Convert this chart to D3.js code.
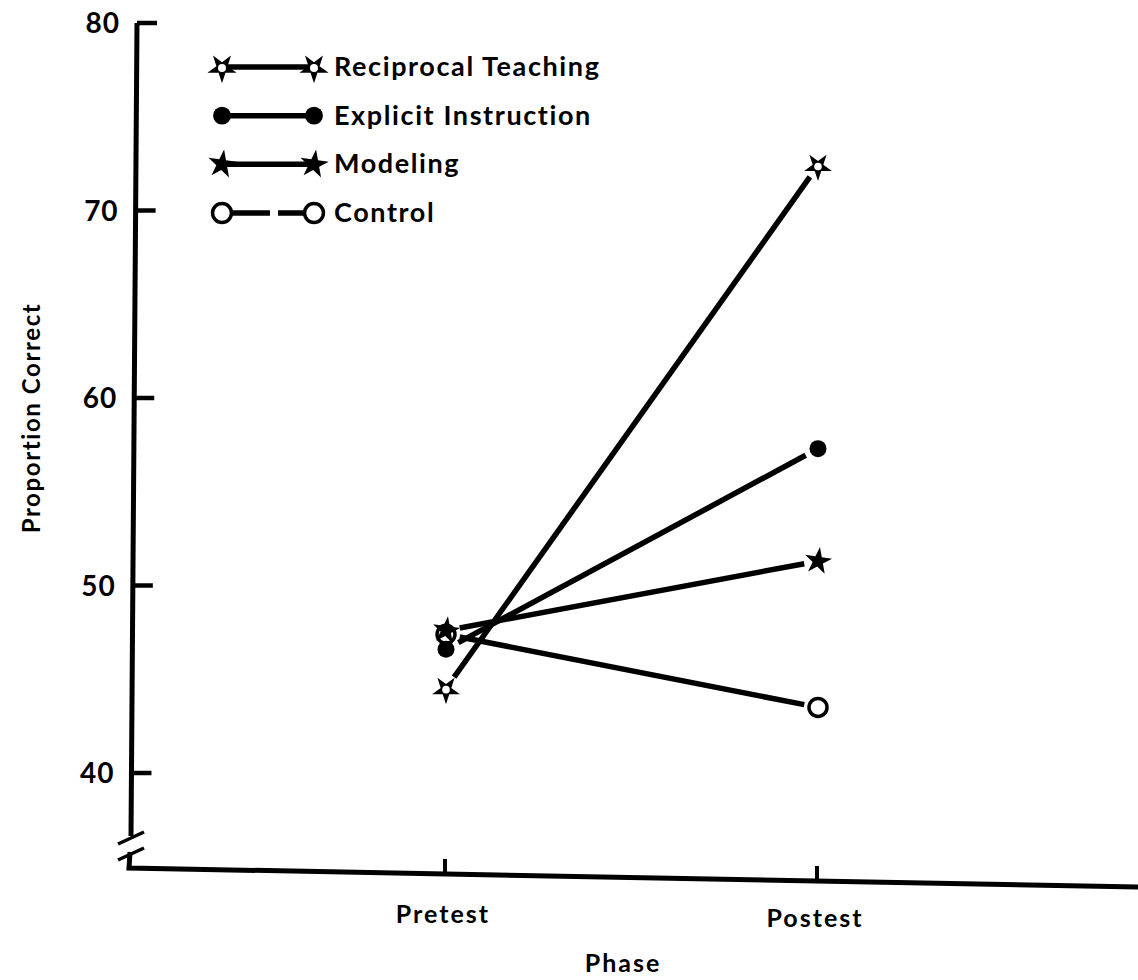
<!DOCTYPE html>
<html>
<head>
<meta charset="utf-8">
<script src="https://cdn.jsdelivr.net/npm/d3@7"></script>
<style>
  body { margin: 0; background: #fff; }
  text { font-family: "Lato", "DejaVu Sans", sans-serif; font-weight: bold; fill: #000; }
</style>
</head>
<body>
<script>
const phases = ["Pretest", "Postest"];
const groups = ["Reciprocal Teaching", "Explicit Instruction", "Modeling", "Control"];
const reciprocal = [44.5, 72.4];
const explicit = [46.6, 57.3];
const modeling = [47.6, 51.3];
const control = [47.4, 43.5];
const yTicks = [40, 50, 60, 70, 80];

const series = [
    { name: groups[0], values: reciprocal, marker: "openStar" },
    { name: groups[1], values: explicit, marker: "dot" },
    { name: groups[2], values: modeling, marker: "star" },
    { name: groups[3], values: control, marker: "ring" },
];

const width = 1138;
const height = 980;

const svg = d3.select("body")
    .append("svg")
    .attr("width", width)
    .attr("height", height);

const x = d3.scalePoint()
    .domain(phases)
    .range([446, 818]);

const y = d3.scaleLinear()
    .domain([40, 80])
    .range([773, 23]);

// axis lines (the scan is slightly skewed, so draw them by hand)
const axisX = 136;
const baseY = 868;

svg.append("path")
    .attr("d", `M${axisX + 1},${y(80)} L${axisX - 5},836`)
    .attr("stroke", "#000")
    .attr("stroke-width", 5)
    .attr("fill", "none");

svg.append("path")
    .attr("d", `M${axisX - 6},852 L${axisX - 7},${baseY} L1138,887`)
    .attr("stroke", "#000")
    .attr("stroke-width", 5)
    .attr("fill", "none");

// axis break
svg.selectAll(".brk")
    .data([0, 16])
    .enter()
    .append("line")
    .attr("x1", axisX - 18)
    .attr("y1", d => 844 + d)
    .attr("x2", axisX + 8)
    .attr("y2", d => 832 + d)
    .attr("stroke", "#000")
    .attr("stroke-width", 3.5);

// y ticks
const slope = -6 / (836 - y(80));
svg.selectAll(".ytick")
    .data(yTicks)
    .enter()
    .append("line")
    .attr("x1", d => axisX + 1 + (y(d) - y(80)) * slope)
    .attr("x2", d => axisX + 21 + (y(d) - y(80)) * slope)
    .attr("y1", d => y(d))
    .attr("y2", d => y(d))
    .attr("stroke", "#000")
    .attr("stroke-width", 4.5);

svg.selectAll(".ylab")
    .data(yTicks)
    .enter()
    .append("text")
    .attr("x", d => 120 + (y(d) - y(80)) * slope)
    .attr("y", d => y(d) + 10)
    .attr("text-anchor", "end")
    .attr("font-size", "28px")
    .attr("letter-spacing", "1px")
    .text(d => d);

svg.append("text")
    .attr("transform", "translate(40,418) rotate(-90)")
    .attr("text-anchor", "middle")
    .attr("font-size", "24px")
    .attr("letter-spacing", "1.6px")
    .text("Proportion Correct");

// x ticks
const baseAt = px => baseY + (px - (axisX - 7)) * (887 - baseY) / (1138 - (axisX - 7));
svg.selectAll(".xtick")
    .data(phases)
    .enter()
    .append("line")
    .attr("x1", d => x(d) - 1)
    .attr("x2", d => x(d) - 1)
    .attr("y1", d => baseAt(x(d)) - 15)
    .attr("y2", d => baseAt(x(d)))
    .attr("stroke", "#000")
    .attr("stroke-width", 4);

svg.selectAll(".xlab")
    .data(phases)
    .enter()
    .append("text")
    .attr("x", d => x(d) - 3)
    .attr("y", (d, i) => 923 + i * 4)
    .attr("text-anchor", "middle")
    .attr("font-size", "25px")
    .attr("letter-spacing", "2px")
    .text(d => d);

svg.append("text")
    .attr("x", 623)
    .attr("y", 972)
    .attr("text-anchor", "middle")
    .attr("font-size", "25px")
    .attr("letter-spacing", "2px")
    .text("Phase");

// markers
function drawMarker(g, type, cx, cy, scale) {
    const k = scale || 1;
    if (type === "openStar") {
        g.append("path")
            .attr("d", d3.symbol().type(d3.symbolStar).size(240 * k * k)())
            .attr("transform", `translate(${cx},${cy + 1}) rotate(36)`)
            .attr("fill", "#000");
        g.append("circle")
            .attr("cx", cx).attr("cy", cy + 1).attr("r", 3.8 * k)
            .attr("fill", "#fff");
    } else if (type === "dot") {
        g.append("circle")
            .attr("cx", cx).attr("cy", cy).attr("r", 8.5 * k)
            .attr("fill", "#000");
    } else if (type === "star") {
        g.append("path")
            .attr("d", d3.symbol().type(d3.symbolStar).size(230 * k * k)())
            .attr("transform", `translate(${cx},${cy}) rotate(8)`)
            .attr("fill", "#000");
    } else {
        g.append("circle")
            .attr("cx", cx).attr("cy", cy).attr("r", 9 * k)
            .attr("fill", "#fff")
            .attr("stroke", "#000")
            .attr("stroke-width", 3.5);
    }
}

// trim line ends so they stop short of the markers, as in the print
function trimmed(p0, p1, gap) {
    const dx = p1[0] - p0[0];
    const dy = p1[1] - p0[1];
    const len = Math.hypot(dx, dy);
    const ux = dx / len;
    const uy = dy / len;
    return [[p0[0] + ux * gap, p0[1] + uy * gap], [p1[0] - ux * gap, p1[1] - uy * gap]];
}

const plot = svg.append("g");

series.forEach(s => {
    const pts = s.values.map((v, i) => [x(phases[i]), y(v)]);
    const seg = trimmed(pts[0], pts[1], 14);
    plot.append("path")
        .attr("d", d3.line()(seg))
        .attr("stroke", "#000")
        .attr("stroke-width", 5.5)
        .attr("fill", "none");
});

// control first so the modeling star sits over it at the pretest
[3, 0, 1, 2].forEach(j => {
    const s = series[j];
    s.values.forEach((v, i) => drawMarker(plot, s.marker, x(phases[i]), y(v)));
});

// legend
const legendY = d3.scalePoint()
    .domain(groups)
    .range([67, 213]);

const legend = svg.append("g");

series.forEach(s => {
    const ly = legendY(s.name);
    legend.append("line")
        .attr("x1", 222)
        .attr("x2", 314)
        .attr("y1", ly)
        .attr("y2", ly)
        .attr("stroke", "#000")
        .attr("stroke-width", 5.5)
        .attr("stroke-dasharray", s.marker === "ring" ? "48,8,60" : null);
    drawMarker(legend, s.marker, 222, ly, 1.05);
    drawMarker(legend, s.marker, 314, ly, 1.05);
    legend.append("text")
        .attr("x", 334)
        .attr("y", ly + 9)
        .attr("font-size", "27px")
        .attr("letter-spacing", "1.6px")
        .text(s.name);
});
</script>
</body>
</html>
